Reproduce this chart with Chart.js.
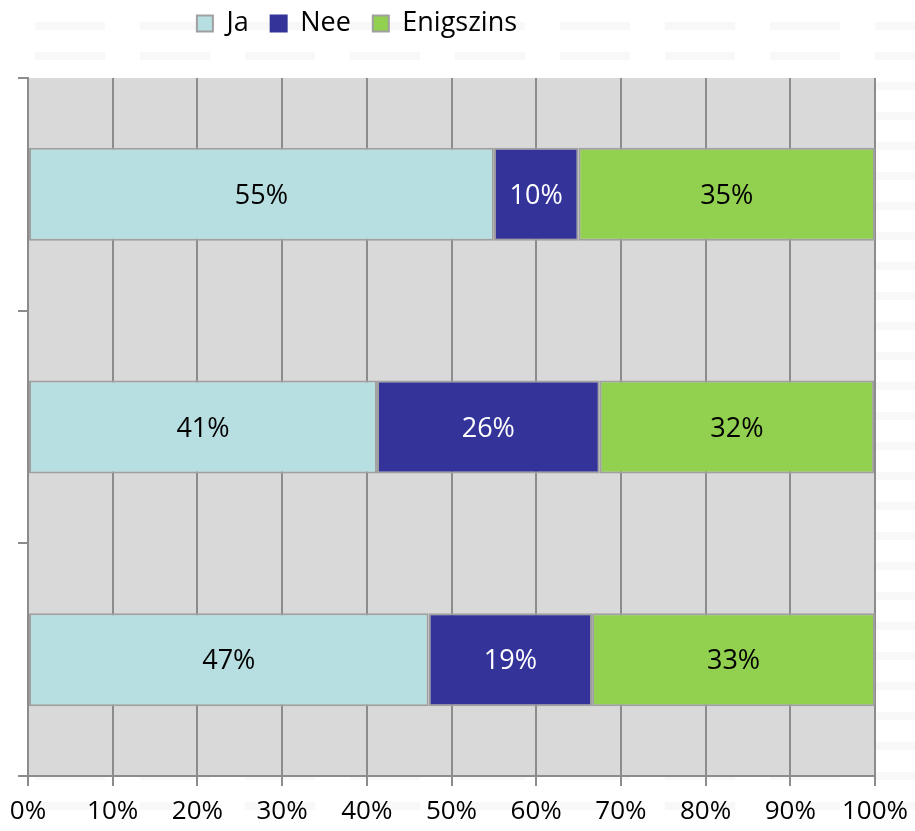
<!DOCTYPE html>
<html>
<head>
<meta charset="utf-8">
<script src="https://cdn.jsdelivr.net/npm/chart.js@4/dist/chart.umd.min.js"></script>
<style>
    html, body { margin: 0; padding: 0; }
    body {
        width: 915px;
        height: 831px;
        overflow: hidden;
        background-color: #ffffff;
        background-image: repeating-linear-gradient(90deg, transparent 0px, transparent 35px, #f5f5f5 35px, #f5f5f5 105px);
        background-size: 105px 30px;
    }
    .wrap { position: relative; width: 915px; height: 831px; }
    .stripes {
        position: absolute; left: 0; top: 0; width: 915px; height: 831px;
        background: repeating-linear-gradient(180deg, #ffffff 0px, #ffffff 22px, rgba(255,255,255,0.3) 22px, rgba(255,255,255,0.3) 30px);
    }
    canvas { position: absolute; left: 0; top: 0; }
</style>
</head>
<body>
<div class="wrap">
    <div class="stripes"></div>
    <canvas id="chart" width="915" height="831"></canvas>
</div>
<script>
// ---- data ----
const categories = ["", "", ""];
const seriesNames = ["Ja", "Nee", "Enigszins"];
const jaValues = [55, 41.2, 47.3];
const neeValues = [10, 26.3, 19.3];
const enigszinsValues = [35, 32.4, 33.4];
const xTicks = [0, 10, 20, 30, 40, 50, 60, 70, 80, 90, 100];

const kleuren = ["#b7dfe1", "#333399", "#92d050"];
const labelKleuren = ["#000000", "#ffffff", "#000000"];
const FONT = "'Open Sans', 'Liberation Sans', sans-serif";

// grijze achtergrond van het plotgebied
const plotAchtergrond = {
    id: "plotAchtergrond",
    beforeDraw(chart) {
        const a = chart.chartArea;
        const ctx = chart.ctx;
        ctx.save();
        ctx.fillStyle = "#d9d9d9";
        ctx.fillRect(a.left, a.top, a.right - a.left, a.bottom - a.top);
        ctx.restore();
    }
};

// percentages midden in de balken
const balkLabels = {
    id: "balkLabels",
    afterDatasetsDraw(chart) {
        const ctx = chart.ctx;
        ctx.save();
        ctx.font = "27px " + FONT;
        ctx.textAlign = "center";
        ctx.textBaseline = "middle";
        chart.data.datasets.forEach((ds, i) => {
            chart.getDatasetMeta(i).data.forEach((bar, j) => {
                const midden = (bar.x + bar.base) / 2;
                ctx.fillStyle = labelKleuren[i];
                ctx.fillText(Math.round(ds.data[j]) + "%", midden, bar.y + 2);
            });
        });
        ctx.restore();
    }
};

// legenda iets naar links en omhoog, zoals in Excel
const legendaPositie = {
    id: "legendaPositie",
    beforeInit(chart) {
        const fit = chart.legend.fit;
        chart.legend.fit = function () {
            fit.call(this);
            this.height = 78;
        };
    },
    afterLayout(chart) {
        chart.legend.left = 0;
        chart.legend.right = 714;
        chart.legend.top = -12;
        chart.legend.bottom = 66;
    }
};

const ctx = document.getElementById("chart").getContext("2d");
new Chart(ctx, {
    type: "bar",
    data: {
        labels: categories,
        datasets: [
            { label: seriesNames[0], data: jaValues, backgroundColor: kleuren[0] },
            { label: seriesNames[1], data: neeValues, backgroundColor: kleuren[1] },
            { label: seriesNames[2], data: enigszinsValues, backgroundColor: kleuren[2] }
        ].map(d => Object.assign(d, {
            borderColor: "#a0a0a0",
            borderWidth: 2,
            borderSkipped: false,
            categoryPercentage: 1,
            barPercentage: 0.4
        }))
    },
    options: {
        indexAxis: "y",
        responsive: false,
        animation: false,
        layout: { padding: { left: 0, right: 40, top: 0, bottom: 0 } },
        scales: {
            x: {
                stacked: true,
                min: 0,
                max: 100,
                afterBuildTicks(axis) {
                    axis.ticks = xTicks.map(v => ({ value: v }));
                },
                afterFit(axis) {
                    axis.height = 55;
                    axis.paddingRight = 0;
                    axis.paddingLeft = 0;
                },
                grid: { color: "#8c8c8c", lineWidth: 2, tickLength: 10, drawTicks: true },
                border: { color: "#8c8c8c", width: 2 },
                ticks: {
                    color: "#000000",
                    font: { family: FONT, size: 26 },
                    padding: 10,
                    maxRotation: 0,
                    callback: v => v + "%"
                }
            },
            y: {
                stacked: true,
                afterFit(axis) { axis.width = 28; },
                grid: { drawOnChartArea: false, color: "#8c8c8c", lineWidth: 2, tickLength: 10 },
                border: { color: "#8c8c8c", width: 2 },
                ticks: { display: false }
            }
        },
        plugins: {
            tooltip: { enabled: false },
            legend: {
                position: "top",
                labels: {
                    color: "#000000",
                    font: { family: FONT, size: 27 },
                    boxWidth: 16,
                    boxHeight: 16,
                    padding: 22,
                    generateLabels(chart) {
                        return chart.data.datasets.map((ds, i) => ({
                            text: ds.label,
                            fillStyle: ds.backgroundColor,
                            strokeStyle: i === 1 ? ds.backgroundColor : "#a0a0a0",
                            lineWidth: 2,
                            datasetIndex: i,
                            hidden: false
                        }));
                    }
                }
            }
        }
    },
    plugins: [plotAchtergrond, balkLabels, legendaPositie]
});
</script>
</body>
</html>
